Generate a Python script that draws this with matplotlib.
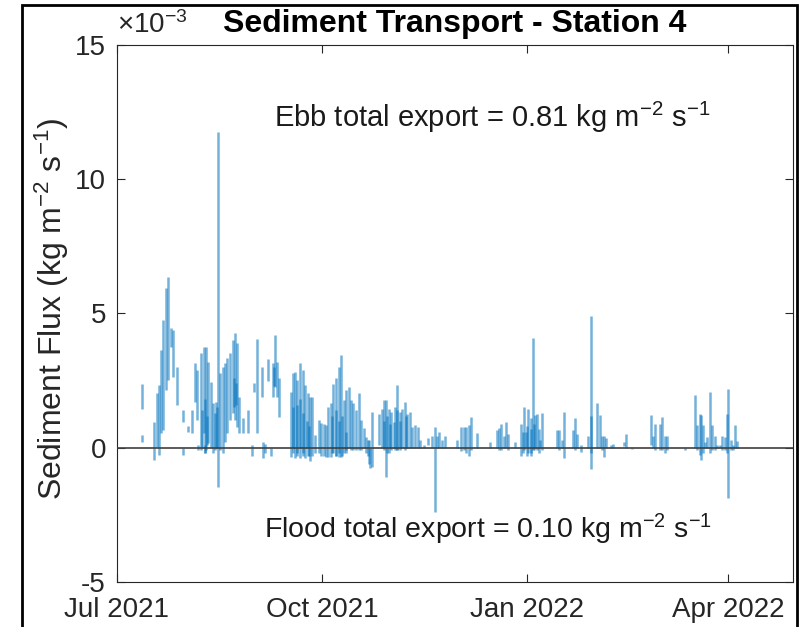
import numpy as np
import matplotlib
matplotlib.use("Agg")
import matplotlib.pyplot as plt
from matplotlib.patches import Rectangle
from matplotlib.ticker import FuncFormatter

plt.rcParams["font.family"] = ["Liberation Sans", "DejaVu Sans"]
plt.rcParams["mathtext.fontset"] = "custom"
plt.rcParams["mathtext.rm"] = "Liberation Sans"
plt.rcParams["mathtext.it"] = "Liberation Sans:italic"
plt.rcParams["mathtext.bf"] = "Liberation Sans:bold"
plt.rcParams["axes.unicode_minus"] = False

# burst start date and day offsets of each burst
start_date = np.datetime64("2021-07-01T00:00")
burst_day = [
    11.1, 11.1, 16.8, 17.8, 18.9, 19.7, 20.8, 21.9, 23.0, 24.1, 25.0, 27.1,
    29.8, 29.8, 31.7, 33.8, 34.9, 36.0, 36.5, 37.8, 38.3, 38.9, 39.4, 39.5,
    40.0, 40.5, 41.0, 42.0, 43.2, 43.8, 44.3, 44.8, 45.3, 46.2, 47.4, 48.6,
    49.5, 50.7, 51.9, 52.5, 53.0, 53.5, 54.0, 54.9, 56.4, 58.5, 60.5, 61.6,
    62.7, 64.9, 65.6, 66.5, 67.9, 69.0, 69.8, 70.2, 70.6, 71.7, 72.4,
    78.0, 78.9, 79.0, 79.9, 80.5, 80.9, 82.0, 82.1, 83.2, 83.5, 84.4, 85.0,
    85.4, 86.0, 86.6, 87.3, 88.9,
    90.4, 91.4, 92.6, 93.8, 94.8, 96.0, 96.5, 97.0, 98.0, 98.1, 99.3, 99.5,
    100.5, 101.0, 101.6, 102.5, 102.8, 103.8, 104.9, 106.0, 107.3, 108.3,
    109.4, 110.5, 111.5, 112.6, 113.0, 113.5, 114.3,
    117.6, 118.8, 119.5, 119.8, 120.7, 121.0, 121.8, 122.5, 122.9, 124.0,
    124.8, 125.5, 125.7, 126.9, 127.0, 127.9, 129.1, 129.5, 130.2, 131.4,
    132.4, 133.7, 134.7, 135.6,
    137.4, 139.2, 141.2, 142.4, 143.5, 144.5, 145.8, 147.2, 152.2, 154.4,
    155.4, 156.6, 157.6, 158.7, 161.4, 167.4,
    170.4, 171.4, 172.3, 173.4, 174.4, 175.3, 178.6, 180.9, 182.0, 182.3,
    183.4, 184.0, 184.3, 185.4, 185.5, 186.4, 187.0, 187.3, 188.4, 189.0,
    189.4, 190.3,
    197.3, 198.0, 199.4, 200.3, 204.5, 205.2, 206.3, 208.1, 211.1, 212.3,
    212.5, 215.3, 216.3, 217.5, 218.3, 219.0, 221.3, 222.3,
    227.2, 228.3, 231.0, 239.2, 240.3, 241.1, 243.4, 244.5, 245.6, 246.4,
    254.5,
    259.1, 260.2, 261.2, 261.8, 262.5, 263.5, 264.3, 265.8, 266.9, 268.0,
    269.1, 270.1, 271.4, 272.4, 273.3, 273.9, 275.0, 276.1, 276.8, 278.0,
]
# minimum / maximum flux within each burst (x 1e-3 kg m-2 s-1)
flux_lo = [
    1.43, 0.22, -0.46, 0.04, -0.27, 0.54, 0.66, 2.15, 2.52, 3.74, 2.63, 1.59,
    0.96, -0.27, 0.58, 0.55, 1.7, 1.03, -0.1, -0.1, 0.0, 0.55, -0.2, -0.2,
    -0.1, 0.1, 0.18, 0.0, -0.2, -0.1, 0.0, 0.0, -1.45, -0.1, -0.2, 0.2,
    0.55, 1.03, 1.29, 1.5, 1.03, 1.6, 0.77, 0.55, 0.55, 0.55, -0.3, 2.07,
    0.55, 1.9, -0.38, -0.2, 2.5, -0.3, 1.9, 2.3, 2.26, 1.9, 1.15,
    -0.35, -0.2, 0.0, -0.4, -0.2, -0.3, 0.0, -0.4, -0.3, -0.2, -0.4, 0.0,
    -0.3, -0.3, -0.5, -0.3, -0.2,
    -0.2, -0.3, -0.3, -0.35, -0.35, -0.35, -0.2, -0.2, -0.3, -0.3, -0.35, -0.2,
    -0.35, -0.3, -0.2, -0.1, -0.2, 0.0, -0.1, -0.1, -0.1, -0.1,
    -0.1, 0.0, -0.2, -0.3, -0.6, -0.77, -0.7,
    0.1, 0.0, 0.0, -0.1, -1.08, -0.2, -0.2, 0.0, -0.1, 0.0,
    -0.1, -0.1, -0.1, -0.1, 0.0, 0.0, -0.1, 0.0, 0.0, 0.0,
    0.0, 0.0, 0.0, 0.0,
    0.0, 0.1, 0.0, -2.38, 0.0, 0.0, 0.0, 0.0, 0.0, -0.14,
    -0.1, -0.2, -0.3, -0.1, 0.0, 0.0,
    0.0, -0.1, -0.1, 0.0, 0.0, -0.1, 0.0, -0.3, -0.2, -0.1,
    0.0, -0.3, -0.2, -0.3, -0.2, -0.1, -0.1, 0.0, -0.1, -0.2,
    0.0, -0.1,
    0.0, -0.1, 0.0, -0.4, 0.0, -0.1, 0.0, -0.15, 0.0, -0.8,
    -0.2, 0.0, 0.0, -0.1, -0.34, 0.0, 0.0, 0.0,
    0.05, 0.0, -0.05, 0.1, 0.0, -0.1, -0.1, -0.1, -0.2, -0.1,
    -0.1,
    0.0, -0.1, -0.27, -0.46, -0.2, 0.0, 0.0, -0.2, -0.1, -0.1,
    0.0, 0.0, -0.1, -0.1, -0.2, -1.88, -0.1, -0.1, 0.0, 0.0,
]
flux_hi = [
    2.37, 0.47, 0.97, 2.03, 2.33, 3.63, 4.74, 5.94, 6.36, 4.45, 4.38, 3.0,
    1.4, 0.0, 0.8, 1.4, 3.15, 2.9, 0.1, 3.52, 1.4, 3.75, 1.8, 0.1,
    3.75, 1.2, 3.18, 2.44, 1.65, 1.3, 1.7, 1.5, 11.75, 2.78, 3.0, 3.15,
    3.33, 3.52, 4.0, 2.6, 4.26, 2.4, 3.9, 1.9, 1.1, 1.4, 0.1, 2.4,
    4.04, 3.0, 0.22, 0.15, 3.3, 0.0, 3.15, 3.0, 4.19, 3.2, 2.6,
    2.07, 2.8, 1.5, 2.83, 1.6, 2.52, 1.8, 3.14, 2.89, 1.3, 2.33, 1.0,
    2.02, 0.8, 1.9, 1.9, 0.47,
    1.03, 0.93, 0.9, 0.84, 1.52, 1.65, 1.2, 2.39, 1.4, 2.58, 3.01, 1.0,
    3.45, 1.2, 1.77, 0.6, 2.15, 2.27, 1.77, 1.65, 1.4, 2.02,
    1.03, 0.72, 0.41, 0.3, 0.3, 0.0, 1.34,
    1.27, 1.46, 1.0, 1.77, 1.77, 1.2, 1.46, 0.9, 1.33, 0.96,
    1.52, 1.4, 2.33, 1.33, 1.0, 1.46, 1.71, 1.2, 1.27, 1.33,
    0.77, 0.84, 0.77, 0.3,
    0.1, 0.35, 0.45, 0.78, 0.45, 0.6, 0.3, 0.45, 0.3, 0.78,
    0.78, 0.78, 0.84, 1.13, 0.53, 0.2,
    0.66, 0.72, 0.9, 0.45, 0.96, 0.5, 0.2, 0.9, 0.6, 1.52,
    0.6, 0.8, 1.46, 1.1, 0.7, 4.07, 0.9, 1.21, 1.27, 0.7,
    0.3, 1.3,
    0.66, 0.66, 0.3, 1.34, 0.66, 1.09, 0.5, 0.1, 0.45, 4.9,
    1.2, 1.65, 1.21, 0.45, 0.45, 0.35, 0.1, 0.15,
    0.2, 0.5, 0.0, 1.21, 0.45, 0.9, 0.9, 1.15, 0.45, 0.45,
    0.0,
    1.96, 0.84, 1.27, 1.21, 0.84, 0.2, 0.4, 2.08, 0.84, 0.45,
    0.1, 0.1, 0.45, 0.4, 1.27, 2.2, 0.3, 0.1, 0.84, 0.25,
]

tick_dates = ["2021-07-01", "2021-10-01", "2022-01-01", "2022-04-01"]
tick_labels = ["Jul 2021", "Oct 2021", "Jan 2022", "Apr 2022"]
x_limits = ["2021-07-01", "2022-04-30"]
y_ticks = [-5e-3, 0, 5e-3, 10e-3, 15e-3]

ebb_text = "Ebb total export = 0.81 kg m$^{-2}$ s$^{-1}$"
flood_text = "Flood total export = 0.10 kg m$^{-2}$ s$^{-1}$"

times = start_date + (np.array(burst_day) * 24 * 60).astype("timedelta64[m]")
lo = np.array(flux_lo) * 1e-3
hi = np.array(flux_hi) * 1e-3

fig = plt.figure(figsize=(8.08, 6.27), dpi=100)
ax = fig.add_axes([0.1448, 0.0718, 0.8366, 0.8565])

ax.vlines(times, lo, hi, color="#0072BD", alpha=0.55, linewidth=1.8)
ax.axhline(0, color="0.25", linewidth=1.2, zorder=3)

ax.set_xlim(np.datetime64(x_limits[0]), np.datetime64(x_limits[1]))
ax.set_xticks([np.datetime64(d) for d in tick_dates])
ax.set_xticklabels(tick_labels)
ax.set_ylim(-5e-3, 15e-3)
ax.set_yticks(y_ticks)
# MATLAB style exponent label: ticks in units of 1e-3
ax.yaxis.set_major_formatter(FuncFormatter(lambda v, p: f"{v * 1e3:g}"))
ax.text(0.0, 1.012, r"$\times$10$^{-3}$", transform=ax.transAxes, ha="left",
        va="bottom", fontsize=20, color="0.15")

ax.tick_params(direction="in", length=6, width=0.8, colors="0.15",
               labelsize=20, top=True, right=True)
ax.tick_params(axis="x", pad=11)
ax.tick_params(axis="y", pad=8)
for s in ax.spines.values():
    s.set_color("0.15")
    s.set_linewidth(0.8)

ax.set_title("Sediment Transport - Station 4", fontsize=23, fontweight="bold", pad=9)
ax.set_ylabel("Sediment Flux (kg m$^{-2}$ s$^{-1}$)", fontsize=23, color="0.15")
ax.yaxis.set_label_coords(-0.068, 0.508)

ax.text(0.555, 0.866, ebb_text, transform=ax.transAxes, ha="center", va="center",
        fontsize=21, color="0.1")
ax.text(0.549, 0.097, flood_text, transform=ax.transAxes, ha="center", va="center",
        fontsize=20.5, color="0.1")

# outer figure frame
fig.patches.append(Rectangle((22 / 808, -0.1), 775 / 808, 1.1 - 5 / 627,
                             transform=fig.transFigure, fill=False,
                             edgecolor="black", linewidth=2))

fig.savefig("out.png", dpi=100)
